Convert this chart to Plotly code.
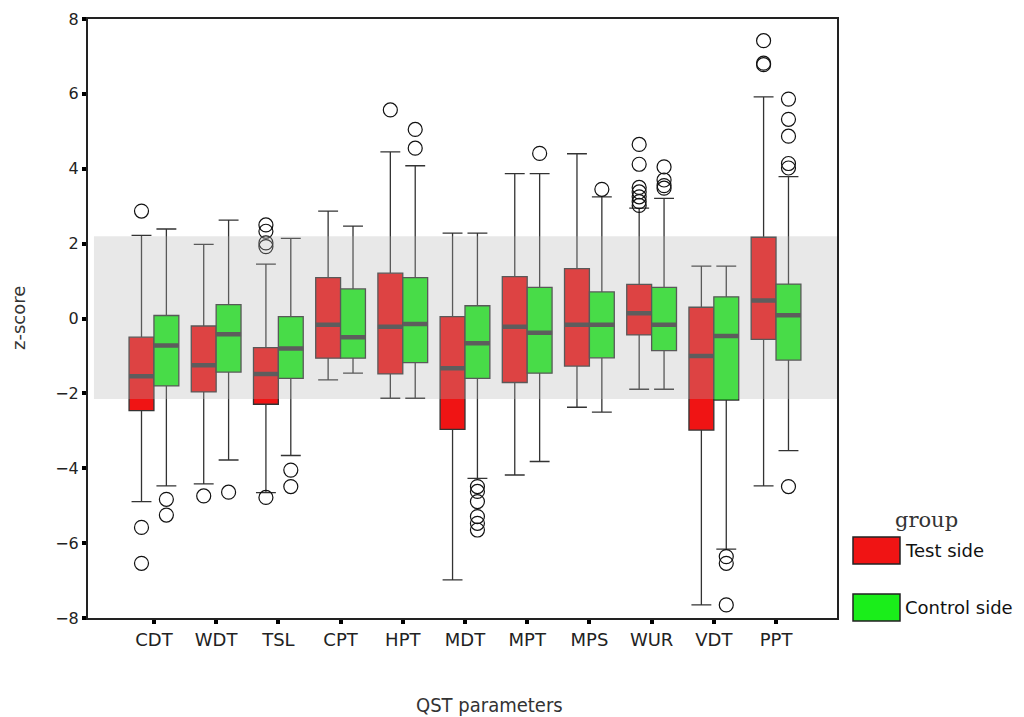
"""
QST z-score boxplot (Test side vs Control side)
"""
import plotly.graph_objects as go

# QST parameters (categories)
params = ['CDT', 'WDT', 'TSL', 'CPT', 'HPT', 'MDT', 'MPT', 'MPS', 'WUR', 'VDT', 'PPT']

# Test side box statistics
test_lower = [-4.89, -4.42, -4.65, -1.64, -2.13, -6.98, -4.18, -2.37, -1.89, -7.65, -4.47]
test_q1 = [-2.46, -1.96, -2.29, -1.06, -1.48, -2.96, -1.71, -1.27, -0.44, -2.98, -0.56]
test_median = [-1.54, -1.25, -1.48, -0.17, -0.22, -1.33, -0.22, -0.17, 0.14, -1.00, 0.48]
test_q3 = [-0.50, -0.20, -0.78, 1.09, 1.21, 0.05, 1.12, 1.33, 0.91, 0.30, 2.17]
test_upper = [2.22, 1.98, 1.45, 2.87, 4.45, 2.28, 3.87, 4.40, 2.95, 1.40, 5.92]
test_outliers = [
    [2.87, -5.58, -6.54],
    [-4.74],
    [2.50, 2.33, 2.02, 1.92, -4.78],
    [],
    [5.57],
    [],
    [],
    [],
    [4.65, 4.12, 3.50, 3.38, 3.25, 3.12, 3.02],
    [],
    [7.42, 6.82, 6.78],
]

# Control side box statistics
control_lower = [-4.47, -3.78, -3.66, -1.46, -2.13, -4.27, -3.82, -2.50, -1.89, -6.16, -3.53]
control_q1 = [-1.80, -1.43, -1.60, -1.06, -1.18, -1.60, -1.46, -1.05, -0.86, -2.18, -1.11]
control_median = [-0.72, -0.42, -0.80, -0.50, -0.15, -0.66, -0.38, -0.17, -0.17, -0.47, 0.09]
control_q3 = [0.08, 0.37, 0.05, 0.79, 1.09, 0.34, 0.83, 0.71, 0.83, 0.58, 0.92]
control_upper = [2.39, 2.63, 2.14, 2.47, 4.08, 2.28, 3.87, 3.25, 3.21, 1.40, 3.79]
control_outliers = [
    [-4.83, -5.25],
    [-4.64],
    [-4.05, -4.49],
    [],
    [5.05, 4.55],
    [-4.49, -4.62, -4.89, -5.29, -5.47, -5.65],
    [4.41],
    [3.45],
    [4.05, 3.70, 3.55, 3.48],
    [-6.36, -6.54, -7.65],
    [5.86, 5.32, 4.87, 4.14, 4.02, -4.49],
]

# 正常範囲の帯
band_low, band_high = -2.15, 2.2

RED = '#f01414'
GREEN = '#1aee1a'
EDGE = '#333333'
MEDIAN = '#383838'

fig = go.Figure()


def add_group(name, color, lower, q1, med, q3, upper, outliers):
    # 箱ひげ + 外れ値
    fig.add_trace(go.Box(
        name=name, x=params, y=outliers,
        q1=q1, median=med, q3=q3, lowerfence=lower, upperfence=upper,
        offsetgroup=name, boxpoints='outliers', jitter=0, pointpos=0,
        fillcolor=color, whiskerwidth=0.8,
        line=dict(color=EDGE, width=1.3),
        marker=dict(symbol='circle-open', size=14, color='#111111',
                    line=dict(width=1.2)),
        showlegend=False,
    ))
    # 太い中央値ライン
    fig.add_trace(go.Box(
        name=name + ' median', x=params,
        q1=med, median=med, q3=med, lowerfence=med, upperfence=med,
        offsetgroup=name, boxpoints=False, whiskerwidth=0,
        fillcolor='rgba(0,0,0,0)',
        line=dict(color=MEDIAN, width=4.5),
        showlegend=False, hoverinfo='skip',
    ))


add_group('Test side', RED, test_lower, test_q1, test_median, test_q3, test_upper, test_outliers)
add_group('Control side', GREEN, control_lower, control_q1, control_median, control_q3,
          control_upper, control_outliers)

# グレーの帯（半透明で箱の上に重ねる）
fig.add_shape(type='rect', xref='x domain', yref='y', x0=0.008, x1=1,
              y0=band_low, y1=band_high, fillcolor='rgba(180,180,180,0.3)',
              line=dict(width=0), layer='above')

# ページ座標（body の 8px 余白を差し引く）
PAGE = 8
W, H = 1024 - PAGE, 717 - PAGE
L, R, T, B = 88 - PAGE, 837 - PAGE, 19 - PAGE, 618 - PAGE


def px(x):
    return (x - PAGE - L) / (R - L)


def py(y):
    return (B - (y - PAGE)) / (B - T)


# 凡例（手書き）
legend_items = [('Test side', RED, 537, 564), ('Control side', GREEN, 594, 621)]
for label, color, top, bottom in legend_items:
    fig.add_shape(type='rect', xref='paper', yref='paper',
                  x0=px(853), x1=px(900), y0=py(bottom), y1=py(top),
                  fillcolor=color, line=dict(color='#222222', width=1.5))
    fig.add_annotation(x=px(903), y=py((top + bottom) / 2), xref='paper', yref='paper',
                       text=label, showarrow=False, xanchor='left', yanchor='middle',
                       font=dict(family='DejaVu Sans', size=18, color='#111111'))

fig.add_annotation(x=px(926), y=py(520), xref='paper', yref='paper', text='group',
                   showarrow=False, xanchor='center', yanchor='middle',
                   font=dict(family='DejaVu Serif', size=21, color='#333333'))
fig.add_annotation(x=px(18), y=py(318), xref='paper', yref='paper', text='z-score',
                   showarrow=False, textangle=-90, xanchor='center', yanchor='middle',
                   font=dict(family='DejaVu Sans', size=18, color='#333333'))
fig.add_annotation(x=px(489), y=py(705), xref='paper', yref='paper', text='QST parameters',
                   showarrow=False, xanchor='center', yanchor='middle',
                   font=dict(family='DejaVu Sans Condensed, DejaVu Sans', size=20,
                             color='#333333'))

fig.update_layout(
    width=W, height=H,
    margin=dict(l=L, r=W - R, t=T, b=H - B, autoexpand=False),
    paper_bgcolor='white', plot_bgcolor='white',
    boxmode='group', boxgap=0.2, boxgroupgap=0,
    showlegend=False,
)
fig.update_xaxes(
    type='category', range=[-1.06, 10.98], automargin=False,
    showline=True, linecolor='#222222', linewidth=2, mirror=True,
    ticks='outside', ticklen=4, tickwidth=4, tickcolor='#000000',
    showgrid=False, zeroline=False,
    tickfont=dict(family='DejaVu Sans', size=18, color='#222222'),
)
fig.update_yaxes(
    range=[-8, 8], tickvals=[-8, -6, -4, -2, 0, 2, 4, 6, 8], automargin=False,
    showline=True, linecolor='#222222', linewidth=2, mirror=True,
    ticks='outside', ticklen=4, tickwidth=4, tickcolor='#000000',
    showgrid=False, zeroline=False,
    tickfont=dict(family='DejaVu Sans', size=16, color='#222222'),
)

fig.write_html("out.html")
